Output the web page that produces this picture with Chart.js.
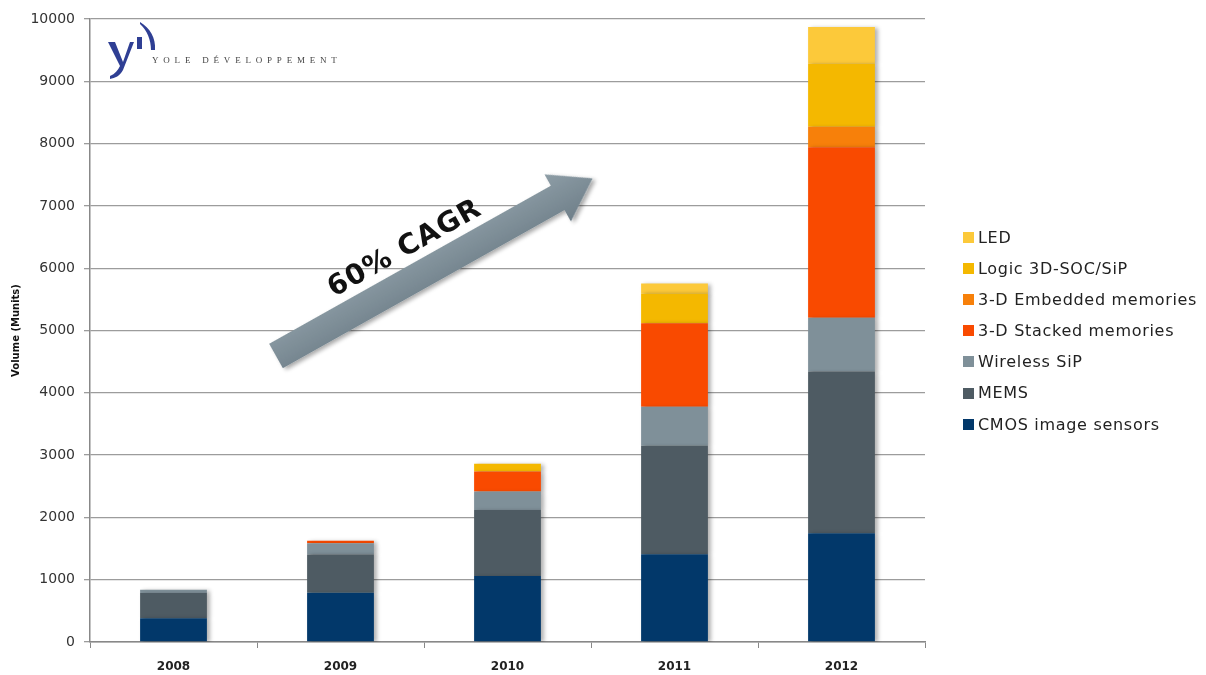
<!DOCTYPE html>
<html lang="en">
  <head>
    <meta charset="UTF-8" />
    <title>3D IC / TSV volume</title>
    <script src="https://cdn.jsdelivr.net/npm/chart.js@4.4.0/dist/chart.umd.min.js"></script>
    <style>
      html, body { margin: 0; padding: 0; background: #fff; }
      #wrap { position: relative; width: 1206px; height: 675px; }
      #chart { position: absolute; left: 0; top: 0; }
      #overlay { position: absolute; left: 0; top: 0; pointer-events: none; }
      #legend {
        position: absolute; left: 963px; top: 222px;
        font-family: "DejaVu Sans", sans-serif; font-size: 16px; letter-spacing: 0.7px;
        color: #222; line-height: 31.1px;
      }
      #legend .item { display: flex; align-items: center; white-space: nowrap; }
      #legend .box { width: 11px; height: 11px; margin-right: 4px; flex: none; }
    </style>
  </head>
  <body>
    <div id="wrap">
      <canvas id="chart" width="1206" height="675"></canvas>
      <svg id="overlay" width="1206" height="675">
        <defs>
          <linearGradient id="arrowFill" x1="0" y1="0" x2="0" y2="1">
            <stop offset="0" stop-color="#8d9da6" />
            <stop offset="1" stop-color="#6f7f89" />
          </linearGradient>
          <filter id="drop" x="-10%" y="-30%" width="120%" height="160%">
            <feGaussianBlur in="SourceAlpha" stdDeviation="2" />
            <feOffset dx="2" dy="3" result="b" />
            <feComponentTransfer><feFuncA type="linear" slope="0.35" /></feComponentTransfer>
            <feMerge><feMergeNode /><feMergeNode in="SourceGraphic" /></feMerge>
          </filter>
        </defs>
        <!-- logo -->
        <g fill="#2f3f94">
          <path d="M140 22 C150 28 156 38 155 50 L151 50 C151 40 147 30 140 24 Z" />
          <rect x="137" y="37" width="5" height="12" />
          <path d="M108 42 L115 42 L123 62 L130 42 L134 42 L123 70 C120 76 115 78 110 79 L110 76 C115 74 118 70 120 66 Z" />
        </g>
        <text x="152" y="63" font-family="Liberation Serif, serif" font-size="9" letter-spacing="4.8" fill="#444">YOLE DÉVELOPPEMENT</text>
        <!-- growth arrow -->
        <g transform="translate(276,356) rotate(-29.3)">
          <polygon points="0,-14 323,-14 323,-27 363,0 323,27 323,14 0,14" fill="url(#arrowFill)" filter="url(#drop)" />
          <text x="79" y="-23" font-family="DejaVu Sans" font-weight="bold" font-size="28" letter-spacing="1" fill="#111">60% CAGR</text>
        </g>
      </svg>
      <div id="legend"></div>
    </div>
    <script>
      const years = ["2008", "2009", "2010", "2011", "2012"];
      const yTicks = [0, 1000, 2000, 3000, 4000, 5000, 6000, 7000, 8000, 9000, 10000];

      // Munits per segment, bottom to top
      const cmosImageSensors = [380, 790, 1060, 1410, 1745];
      const mems = [405, 615, 1060, 1740, 2595];
      const wirelessSip = [55, 180, 295, 625, 865];
      const stackedMemories = [0, 40, 320, 1340, 2735];
      const embeddedMemories = [0, 0, 0, 0, 330];
      const logicSocSip = [0, 0, 125, 480, 1010];
      const led = [0, 0, 0, 160, 590];

      const seriesNames = [
        "CMOS image sensors",
        "MEMS",
        "Wireless SiP",
        "3-D Stacked memories",
        "3-D Embedded memories",
        "Logic 3D-SOC/SiP",
        "LED"
      ];
      const seriesValues = [cmosImageSensors, mems, wirelessSip, stackedMemories, embeddedMemories, logicSocSip, led];
      const seriesColors = ["#02386a", "#4e5b63", "#7f9099", "#f94a00", "#f7800a", "#f4b800", "#fcc93a"];

      const datasets = seriesNames.map((name, i) => ({
        label: name,
        data: seriesValues[i],
        backgroundColor: seriesColors[i],
        borderWidth: 0,
        barPercentage: 1,
        categoryPercentage: 0.4
      }));

      // legend, top series first
      const legendEl = document.getElementById("legend");
      for (let i = seriesNames.length - 1; i >= 0; i--) {
        const row = document.createElement("div");
        row.className = "item";
        row.innerHTML = `<span class="box" style="background:${seriesColors[i]}"></span>${seriesNames[i]}`;
        legendEl.appendChild(row);
      }

      // soft shadow on the right of the bars
      const barShadow = {
        id: "barShadow",
        beforeDatasetsDraw(chart) {
          const ctx = chart.ctx;
          ctx.save();
          ctx.shadowColor = "rgba(0,0,0,0.3)";
          ctx.shadowBlur = 4;
          ctx.shadowOffsetX = 3;
          ctx.shadowOffsetY = 1;
        },
        afterDatasetsDraw(chart) {
          chart.ctx.restore();
        }
      };

      const sans = "DejaVu Sans";

      new Chart(document.getElementById("chart"), {
        type: "bar",
        data: { labels: years, datasets: datasets },
        options: {
          responsive: false,
          animation: false,
          layout: { padding: { left: 6, top: 19, right: 281, bottom: 0 } },
          plugins: {
            legend: { display: false },
            tooltip: { enabled: false }
          },
          scales: {
            x: {
              stacked: true,
              afterFit(scale) { scale.height = 33; },
              grid: { drawOnChartArea: false, drawTicks: true, tickLength: 6, color: "#888", offset: true },
              border: { color: "#888", width: 1.5 },
              ticks: { font: { family: sans, size: 12, weight: "bold", lineHeight: 1 }, color: "#222", padding: 13 }
            },
            y: {
              stacked: true,
              min: 0,
              max: 10000,
              afterBuildTicks(scale) {
                scale.ticks = yTicks.map(v => ({ value: v }));
              },
              afterFit(scale) { scale.width = 84; },
              grid: { color: "#9c9c9c", lineWidth: 1.3, tickLength: 6 },
              border: { color: "#888", width: 1.5 },
              ticks: {
                font: { family: sans, size: 14 },
                color: "#333",
                padding: 9,
                callback: v => String(v)
              },
              title: {
                display: true,
                text: "Volume (Munits)",
                font: { family: sans, size: 10, weight: "bold" },
                color: "#111",
                padding: { top: 4, bottom: 0 }
              }
            }
          }
        },
        plugins: [barShadow]
      });
    </script>
  </body>
</html>
